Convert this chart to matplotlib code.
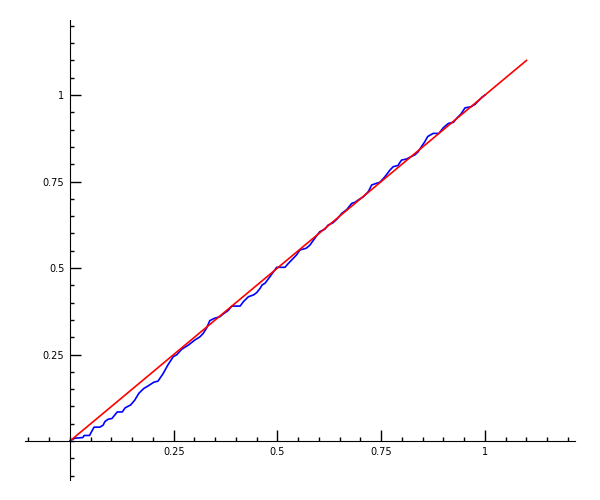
import matplotlib
matplotlib.use('Agg')
import matplotlib.pyplot as plt
from matplotlib.ticker import FixedLocator, MultipleLocator

# empirical curve (blue)
blue_x = [0, 0.011, 0.031, 0.034, 0.047, 0.058, 0.072, 0.080, 0.084, 0.092,
          0.101, 0.114, 0.126, 0.133, 0.146, 0.156, 0.166, 0.178, 0.188, 0.202,
          0.212, 0.224, 0.236, 0.249, 0.257, 0.269, 0.285, 0.301, 0.313, 0.321,
          0.329, 0.337, 0.349, 0.361, 0.369, 0.381, 0.390, 0.410, 0.418, 0.430,
          0.442, 0.450, 0.458, 0.463, 0.470, 0.482, 0.498, 0.518, 0.526, 0.538,
          0.546, 0.554, 0.569, 0.578, 0.590, 0.602, 0.614, 0.622, 0.634, 0.643,
          0.655, 0.667, 0.679, 0.687, 0.695, 0.707, 0.719, 0.727, 0.739, 0.747,
          0.759, 0.771, 0.779, 0.790, 0.799, 0.811, 0.822, 0.831, 0.839, 0.847,
          0.855, 0.862, 0.875, 0.889, 0.900, 0.912, 0.924, 0.932, 0.942, 0.952,
          0.966, 0.976, 0.984, 0.994, 1.0]
blue_y = [0, 0.008, 0.010, 0.016, 0.016, 0.040, 0.040, 0.046, 0.056, 0.063,
          0.065, 0.084, 0.084, 0.096, 0.104, 0.118, 0.138, 0.152, 0.159, 0.170,
          0.173, 0.194, 0.220, 0.244, 0.249, 0.265, 0.277, 0.292, 0.301, 0.311,
          0.326, 0.348, 0.355, 0.359, 0.367, 0.377, 0.390, 0.390, 0.403, 0.417,
          0.422, 0.429, 0.441, 0.451, 0.456, 0.475, 0.502, 0.502, 0.513, 0.528,
          0.538, 0.552, 0.557, 0.566, 0.586, 0.605, 0.612, 0.624, 0.631, 0.641,
          0.658, 0.669, 0.687, 0.690, 0.697, 0.706, 0.721, 0.740, 0.745, 0.748,
          0.764, 0.783, 0.793, 0.796, 0.812, 0.815, 0.822, 0.827, 0.836, 0.851,
          0.865, 0.880, 0.889, 0.889, 0.906, 0.918, 0.921, 0.933, 0.945, 0.963,
          0.966, 0.973, 0.983, 0.995, 1.0]

# reference line (red)
red_x = [0, 1.1]
red_y = [0, 1.1]

ticks = [0.25, 0.5, 0.75, 1]
tick_labels = ['0.25', '0.5', '0.75', '1']

fig = plt.figure(figsize=(6, 5), dpi=100)
ax = fig.add_axes([25/600, 20/500, 550/600, 460/500])

ax.plot(blue_x, blue_y, color='#0000ff', lw=1.2)
ax.plot(red_x, red_y, color='#ff0000', lw=1.2)

ax.set_xlim(-0.1084, 1.2169)
ax.set_ylim(-0.1127, 1.2168)

for s in ['top', 'right']:
    ax.spines[s].set_visible(False)
ax.spines['left'].set_position('zero')
ax.spines['bottom'].set_position('zero')

ax.xaxis.set_major_locator(FixedLocator(ticks))
ax.yaxis.set_major_locator(FixedLocator(ticks))
ax.set_xticklabels(tick_labels)
ax.set_yticklabels(tick_labels)
ax.xaxis.set_minor_locator(MultipleLocator(0.05))
ax.yaxis.set_minor_locator(MultipleLocator(0.05))
ax.tick_params(which='major', direction='in', length=8, width=1, labelsize=7, pad=4)
ax.tick_params(which='minor', direction='in', length=3, width=1)

fig.savefig('out.png', dpi=100)
